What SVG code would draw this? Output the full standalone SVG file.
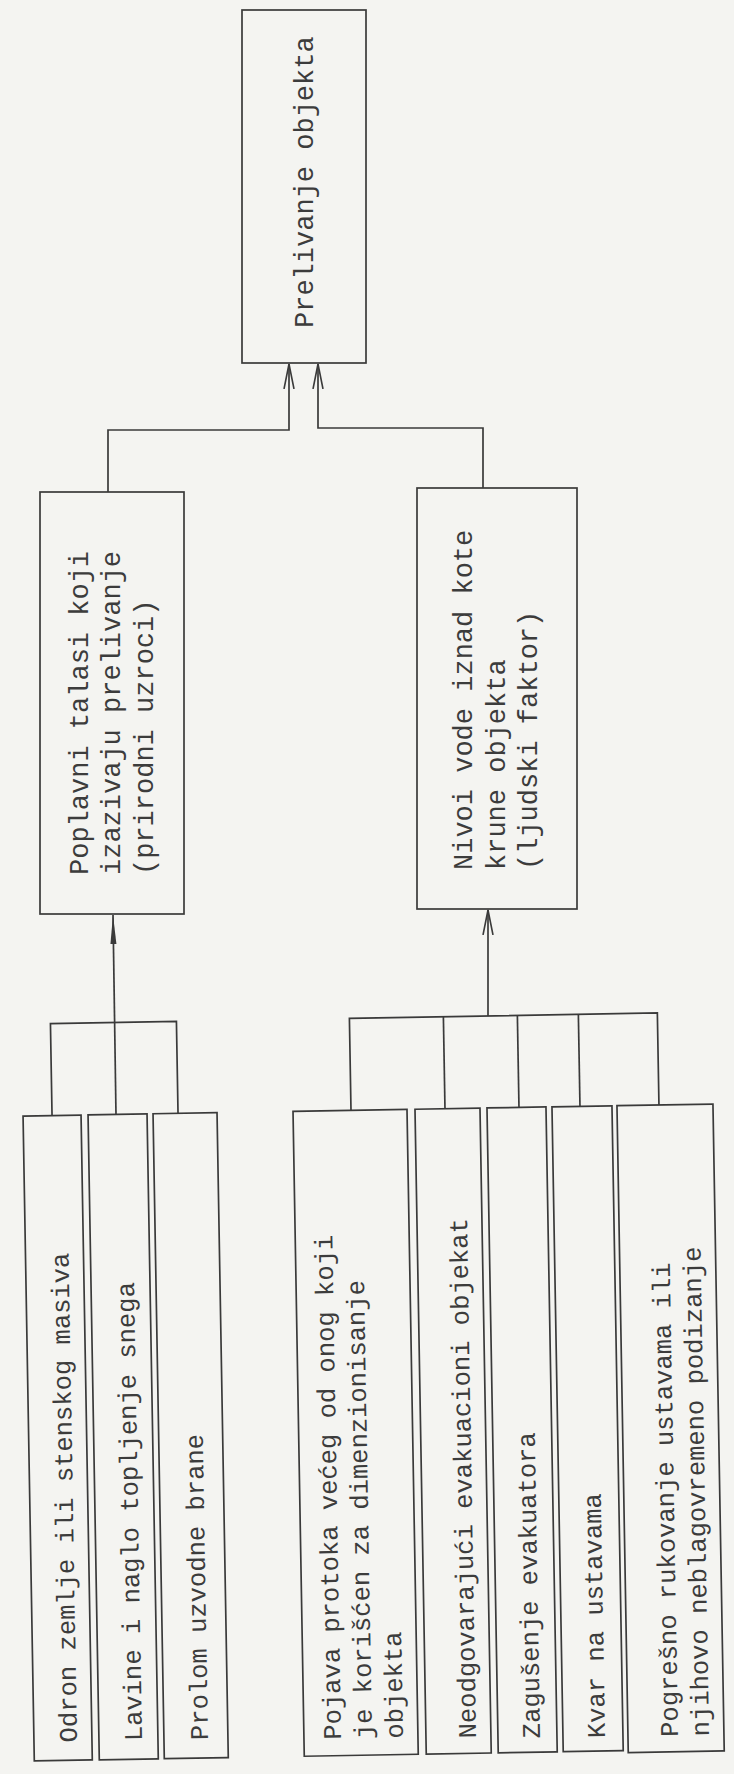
<svg xmlns="http://www.w3.org/2000/svg" width="734" height="1774" viewBox="0 0 734 1774">
<style>
.bg{fill:#f4f4f1}
.box{fill:none;stroke:#3a3a3a;stroke-width:1.7}
.c{fill:none;stroke:#3a3a3a;stroke-width:1.7}
.t{font-family:"Liberation Mono","DejaVu Sans Mono",monospace;font-size:27px;fill:#3c3c3c}
.b{font-family:"Liberation Mono","DejaVu Sans Mono",monospace;font-size:25.5px;fill:#3c3c3c}
</style>
<defs>
<marker id="arrOpen" viewBox="0 0 26 12" refX="25" refY="6" markerWidth="26" markerHeight="12" markerUnits="userSpaceOnUse" orient="auto">
<path d="M0,1 L25,6 L0,11" fill="none" stroke="#3a3a3a" stroke-width="1.6"/>
</marker>
<marker id="arrFill" viewBox="0 0 30 8" refX="29" refY="4" markerWidth="30" markerHeight="8" markerUnits="userSpaceOnUse" orient="auto">
<path d="M0,1 L29,4 L0,7 z" fill="#3a3a3a"/>
</marker>
</defs>
<rect class="bg" x="0" y="0" width="734" height="1774"/>

<g id="connectors">
<path class="c" d="M108,492 V430 H289 V364" marker-end="url(#arrOpen)"/>
<path class="c" d="M483,488 V428 H318 V364" marker-end="url(#arrOpen)"/>
<path class="c" d="M116,1115 L113,915" marker-end="url(#arrFill)"/>
<path class="c" d="M488,1016 V910" marker-end="url(#arrOpen)"/>
<g transform="rotate(-1 370 1110)">
<path class="c" d="M52,1110 V1018 H178 V1110"/>
<path class="c" d="M351,1110 V1018 H659 V1110"/>
<path class="c" d="M445,1018 V1110"/>
<path class="c" d="M519,1018 V1110"/>
<path class="c" d="M580,1018 V1110"/>
</g>
</g>

<g id="n-prelivanje">
<rect class="box" x="242" y="10" width="124" height="353"/>
<text class="t" transform="translate(313,328) rotate(-90)">Prelivanje objekta</text>
</g>

<g id="n-poplavni">
<rect class="box" x="40" y="492" width="144" height="422"/>
<text class="t" transform="translate(88,875) rotate(-90)">Poplavni talasi koji</text>
<text class="t" transform="translate(120,875) rotate(-90)">izazivaju prelivanje</text>
<text class="t" transform="translate(153,875) rotate(-90)">(prirodni uzroci)</text>
</g>

<g id="n-nivoi">
<rect class="box" x="417" y="488" width="160" height="421"/>
<text class="t" transform="translate(472,870) rotate(-90)">Nivoi vode iznad kote</text>
<text class="t" transform="translate(505,870) rotate(-90)">krune objekta</text>
<text class="t" transform="translate(537,870) rotate(-90)">(ljudski faktor)</text>
</g>

<g id="n-odron" transform="rotate(-1 370 1110)">
<rect class="box" x="23" y="1110" width="58" height="645"/>
<text class="b" transform="translate(66,1737) rotate(-90)">Odron zemlje ili stenskog masiva</text>
</g>
<g id="n-lavine" transform="rotate(-1 370 1110)">
<rect class="box" x="88" y="1110" width="59" height="645"/>
<text class="b" transform="translate(131,1737) rotate(-90)">Lavine i naglo topljenje snega</text>
</g>
<g id="n-prolom" transform="rotate(-1 370 1110)">
<rect class="box" x="153" y="1110" width="64" height="645"/>
<text class="b" transform="translate(197,1737) rotate(-90)">Prolom uzvodne brane</text>
</g>

<g id="n-pojava" transform="rotate(-1 370 1110)">
<rect class="box" x="293" y="1110" width="114" height="645"/>
<text class="b" transform="translate(330,1739) rotate(-90)">Pojava protoka većeg od onog koji</text>
<text class="b" transform="translate(361,1739) rotate(-90)">je korišćen za dimenzionisanje</text>
<text class="b" transform="translate(392,1739) rotate(-90)">objekta</text>
</g>
<g id="n-neodgovarajuci" transform="rotate(-1 370 1110)">
<rect class="box" x="415" y="1110" width="65" height="645"/>
<text class="b" transform="translate(465,1740) rotate(-90)">Neodgovarajući evakuacioni objekat</text>
</g>
<g id="n-zagusenje" transform="rotate(-1 370 1110)">
<rect class="box" x="487" y="1110" width="59" height="645"/>
<text class="b" transform="translate(529,1741) rotate(-90)">Zagušenje evakuatora</text>
</g>
<g id="n-kvar" transform="rotate(-1 370 1110)">
<rect class="box" x="552" y="1110" width="60" height="645"/>
<text class="b" transform="translate(594,1742) rotate(-90)">Kvar na ustavama</text>
</g>
<g id="n-pogresno" transform="rotate(-1 370 1110)">
<rect class="box" x="617" y="1110" width="96" height="647"/>
<text class="b" transform="translate(667,1742) rotate(-90)">Pogrešno rukovanje ustavama ili</text>
<text class="b" transform="translate(698,1742) rotate(-90)">njihovo neblagovremeno podizanje</text>
</g>
</svg>
